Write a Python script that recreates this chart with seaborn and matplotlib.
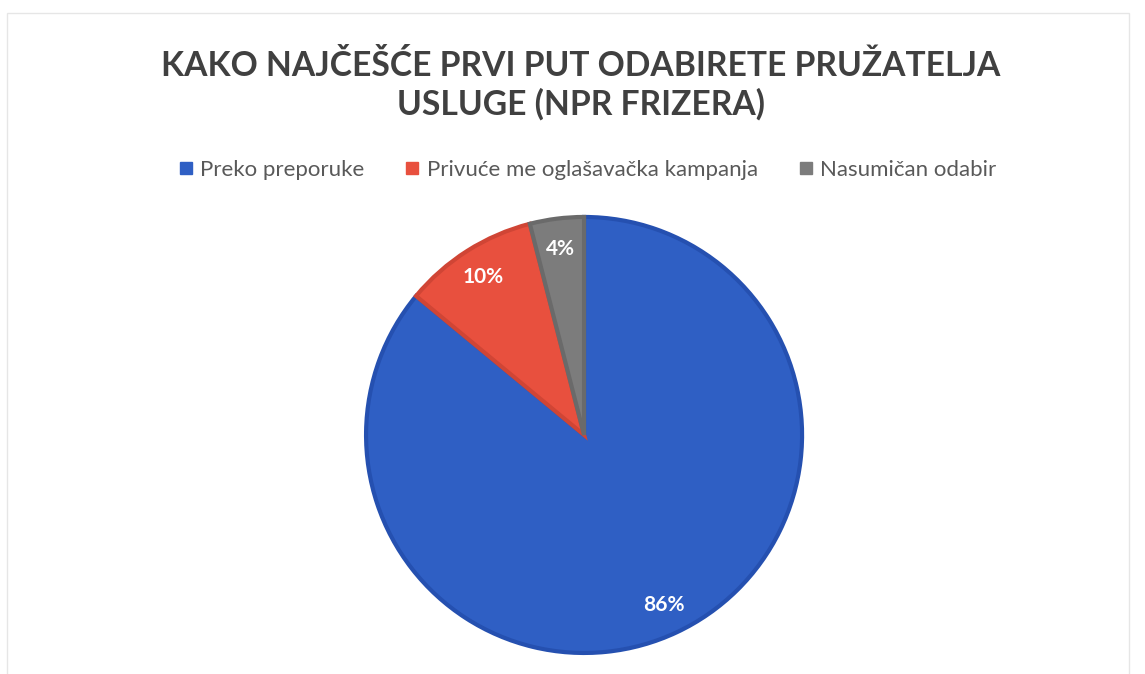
import matplotlib
matplotlib.use('Agg')
import matplotlib.pyplot as plt
import seaborn as sns
from matplotlib.patches import Rectangle
from matplotlib.lines import Line2D

# %% ── Data ───────────────────────────────────────────────
categories = ['Preko preporuke', 'Privuće me oglašavačka kampanja', 'Nasumičan odabir']
shares = [86, 10, 4]
title = 'KAKO NAJČEŠĆE PRVI PUT ODABIRETE PRUŽATELJA\nUSLUGE (NPR FRIZERA)'

colors = ['#2f5fc4', '#e8503e', '#7c7c7c']
edges = ['#2550b0', '#d04535', '#6a6a6a']

sns.set_theme(style='white')
plt.rcParams['font.family'] = ['Lato', 'DejaVu Sans']

fig = plt.figure(figsize=(11.45, 6.74), dpi=100)
fig.patch.set_facecolor('white')

# faint chart-area border
fig.patches.append(Rectangle((0.006, -0.01), 0.98, 0.99, transform=fig.transFigure,
                             fill=False, edgecolor='#e6e6e6', linewidth=1))

ax = fig.add_axes([0.3197, 0.0312, 0.3808, 0.6469])
wedges, texts, autotexts = ax.pie(
    shares, colors=colors, startangle=90, counterclock=False, radius=1,
    autopct='%d%%', pctdistance=0.86,
    wedgeprops={'linewidth': 3},
    textprops={'color': 'white', 'fontsize': 15, 'fontweight': 'bold'})
for w, e in zip(wedges, edges):
    w.set_edgecolor(e)
ax.set_xlim(-1, 1)
ax.set_ylim(-1, 1)
ax.set_aspect('equal')
ax.axis('off')

fig.text(0.507, 0.874, title, ha='center', va='center', fontsize=24.2,
         fontweight='bold', color='#404040', linespacing=1.22)

handles = [Line2D([0], [0], marker='s', linestyle='', markersize=9,
                  markerfacecolor=c, markeredgecolor=c) for c in colors]
fig.legend(handles, categories, loc='center', bbox_to_anchor=(0.513, 0.748),
           ncol=3, frameon=False, fontsize=16, handlelength=0.7,
           handletextpad=0.3, columnspacing=1.8, labelcolor='#595959')

fig.savefig('out.png', dpi=100, facecolor='white')
